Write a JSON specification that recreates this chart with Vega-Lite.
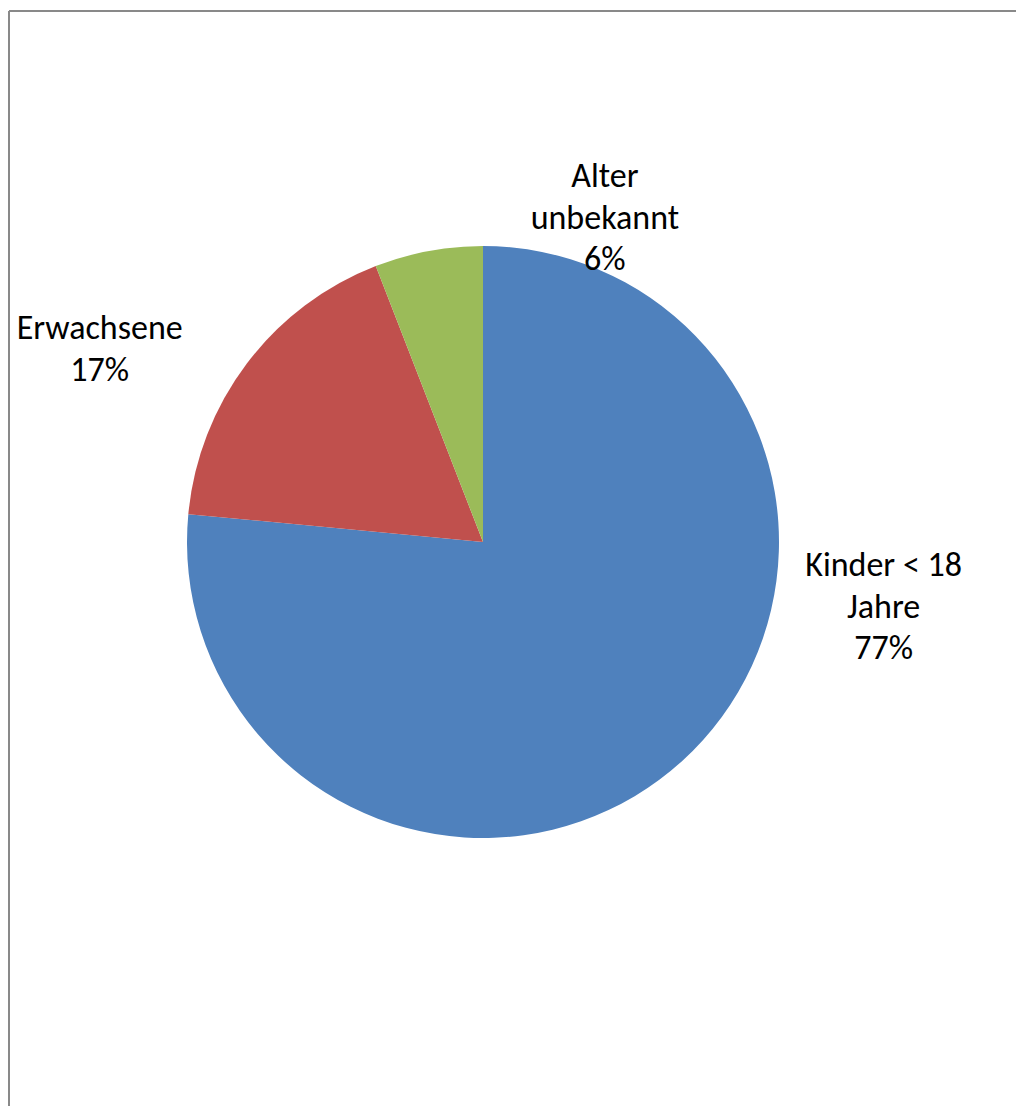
{
  "$schema": "https://vega.github.io/schema/vega-lite/v6.json",
  "width": 948,
  "height": 1062,
  "autosize": {"type": "none"},
  "padding": {"left": 9, "top": 11, "right": 59, "bottom": 33},
  "background": "white",
  "config": {"view": {"stroke": null}, "text": {"font": "Carlito, Lato, sans-serif"}},
  "data": {
    "values": [
      {"gruppe": "Kinder < 18 Jahre", "anteil": 76.5, "label": "Kinder < 18\nJahre\n77%"},
      {"gruppe": "Erwachsene", "anteil": 17.6, "label": "Erwachsene\n17%"},
      {"gruppe": "Alter unbekannt", "anteil": 5.9, "label": "Alter\nunbekannt\n6%"}
    ]
  },
  "layer": [
    {
      "data": {"values": [{}]},
      "mark": {"type": "rule", "color": "#898989", "strokeWidth": 2},
      "encoding": {"x": {"value": 0}, "y": {"value": 0}, "y2": {"value": {"expr": "height + 60"}}}
    },
    {
      "data": {"values": [{}]},
      "mark": {"type": "rule", "color": "#898989", "strokeWidth": 2},
      "encoding": {"y": {"value": 0}, "x": {"value": 0}, "x2": {"value": {"expr": "width + 80"}}}
    },
    {
      "mark": {"type": "arc", "outerRadius": 296},
      "encoding": {
        "theta": {"field": "anteil", "type": "quantitative", "stack": true},
        "order": {"field": "gruppe", "sort": "descending"},
        "color": {
          "field": "gruppe",
          "type": "nominal",
          "scale": {"domain": ["Kinder < 18 Jahre", "Erwachsene", "Alter unbekannt"], "range": ["#4F81BD", "#C0504D", "#9BBB59"]},
          "legend": null
        }
      }
    },
    {
      "mark": {"type": "text", "radius": 310, "dx": 192, "dy": -205, "fontSize": 34, "lineBreak": "\n", "lineHeight": 41.5, "align": "center", "baseline": "middle", "color": "black"},
      "encoding": {
        "theta": {"field": "anteil", "type": "quantitative", "stack": true},
        "order": {"field": "gruppe", "sort": "descending"},
        "text": {"condition": {"test": "datum.gruppe === 'Kinder < 18 Jahre'", "field": "label"}, "value": ""}
      }
    },
    {
      "mark": {"type": "text", "radius": 310, "dx": -136, "dy": -26, "fontSize": 34, "lineBreak": "\n", "lineHeight": 41.5, "align": "center", "baseline": "middle", "color": "black"},
      "encoding": {
        "theta": {"field": "anteil", "type": "quantitative", "stack": true},
        "order": {"field": "gruppe", "sort": "descending"},
        "text": {"condition": {"test": "datum.gruppe === 'Erwachsene'", "field": "label"}, "value": ""}
      }
    },
    {
      "mark": {"type": "text", "radius": 310, "dx": 179, "dy": -60, "fontSize": 34, "lineBreak": "\n", "lineHeight": 41.5, "align": "center", "baseline": "middle", "color": "black"},
      "encoding": {
        "theta": {"field": "anteil", "type": "quantitative", "stack": true},
        "order": {"field": "gruppe", "sort": "descending"},
        "text": {"condition": {"test": "datum.gruppe === 'Alter unbekannt'", "field": "label"}, "value": ""}
      }
    }
  ]
}
